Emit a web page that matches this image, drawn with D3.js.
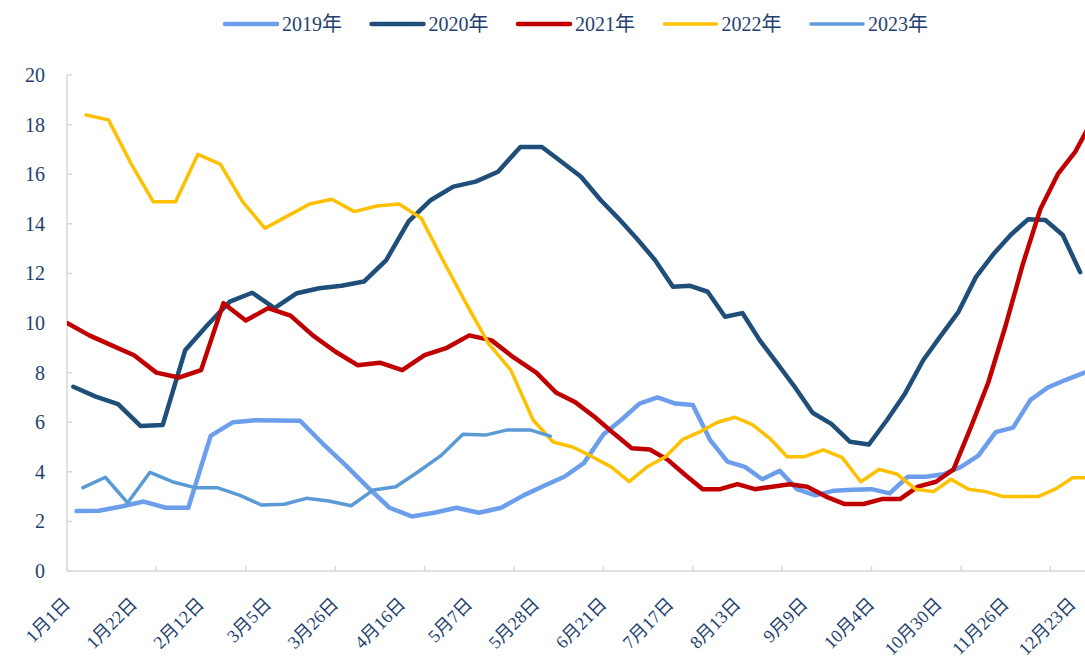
<!DOCTYPE html>
<html>
<head>
<meta charset="utf-8">
<script src="https://cdn.jsdelivr.net/npm/d3@7"></script>
<style>
  html, body { margin: 0; padding: 0; background: #fff; }
  svg { display: block; }
  text { font-family: "Liberation Serif", "Noto Sans CJK SC", serif; fill: #243f6e; }
</style>
</head>
<body>
<div id="chart"></div>
<script>
// 周度数据，各年第一个周五起
const dateLabels = ['1月1日', '1月22日', '2月12日', '3月5日', '3月26日', '4月16日', '5月7日', '5月28日',
  '6月21日', '7月17日', '8月13日', '9月9日', '10月4日', '10月30日', '11月26日', '12月23日'];
const yTicks = [0, 2, 4, 6, 8, 10, 12, 14, 16, 18, 20];

const seriesNames = ['2019年', '2020年', '2021年', '2022年', '2023年'];
const firstFridays = ['2019-01-04', '2020-01-03', '2021-01-01', '2022-01-07', '2023-01-06'];
const seriesColors = ['#6d9eeb', '#1f4e79', '#c00000', '#ffc000', '#5b9bd5'];
const seriesWidths = [4.5, 4.5, 4.5, 3.5, 3.5];

const v2019 = [2.42, 2.43, 2.6, 2.8, 2.55, 2.55, 5.45, 6.0, 6.08, 6.07, 6.06, 5.15, 4.3, 3.4, 2.55, 2.2,
  2.35, 2.55, 2.35, 2.55, 3.05, 3.45, 3.8, 4.35, 5.5, 6.1, 6.75, 7.0, 6.75, 6.69, 5.28, 4.41,
  4.2, 3.7, 4.04, 3.3, 3.05, 3.24, 3.28, 3.3, 3.13, 3.8, 3.8, 3.9, 4.2, 4.65, 5.6, 5.78,
  6.9, 7.4, 7.7, 7.97, 8.25];
const v2020 = [7.43, 7.03, 6.73, 5.85, 5.89, 8.9, 9.92, 10.86, 11.22, 10.6, 11.2, 11.4, 11.5, 11.67, 12.54, 14.1,
  14.96, 15.5, 15.7, 16.1, 17.1, 17.1, 16.5, 15.9, 14.96, 14.2, 13.4, 12.54, 11.46, 11.5, 11.26, 10.25,
  10.4, 9.3, 8.37, 7.43, 6.38, 5.93, 5.21, 5.1, 6.09, 7.16, 8.5, 9.5, 10.45, 11.85, 12.77, 13.55,
  14.18, 14.15, 13.55, 12.05];
const v2021 = [10.0, 9.5, 9.1, 8.7, 8.0, 7.8, 8.1, 10.8, 10.1, 10.6, 10.3, 9.5, 8.85, 8.3, 8.4, 8.1,
  8.7, 9.0, 9.5, 9.3, 8.6, 8.0, 7.2, 6.8, 6.2, 5.55, 4.95, 4.9, 4.48, 3.87, 3.3, 3.3,
  3.5, 3.3, 3.4, 3.5, 3.4, 3.0, 2.7, 2.7, 2.9, 2.9, 3.4, 3.6, 4.1, 5.8, 7.6, 9.9,
  12.4, 14.6, 16.0, 16.9, 18.2];
const v2022 = [18.39, 18.19, 16.44, 14.89, 14.89, 16.8, 16.41, 14.89, 13.82, 14.31, 14.8, 14.99, 14.49, 14.72, 14.8, 14.22,
  12.47, 10.79, 9.18, 8.1, 6.09, 5.2, 5.0, 4.61, 4.2, 3.6, 4.2, 4.6, 5.31, 5.62, 6.0, 6.2,
  5.9, 5.35, 4.61, 4.61, 4.88, 4.58, 3.6, 4.1, 3.9, 3.3, 3.2, 3.7, 3.3, 3.2, 3.0, 3.0,
  3.0, 3.3, 3.76, 3.76];
const v2023 = [3.36, 3.78, 2.75, 3.98, 3.6, 3.36, 3.36, 3.06, 2.66, 2.69, 2.93, 2.82, 2.63, 3.27, 3.4, 4.0,
  4.64, 5.51, 5.48, 5.69, 5.69, 5.44];

const seriesValues = [v2019, v2020, v2021, v2022, v2023];

const W = 1085, H = 657;
const margin = { left: 67, right: 0, top: 75, bottom: 86 };
const catsPerLabel = 3, catsPerTick = 4, visibleCats = 45.55;

const svg = d3.select('#chart').append('svg').attr('width', W).attr('height', H);

const parseDay = d3.timeParse('%Y-%m-%d');
const labelDays = dateLabels.map(s => {
  const m = s.match(/(\d+)月(\d+)日/);
  return d3.timeDay.count(new Date(2021, 0, 1), new Date(2021, +m[1] - 1, +m[2]));
});

// day -> category index (piecewise, labels are every 3 categories)
const dayToCat = d3.scaleLinear().domain(labelDays).range(labelDays.map((_, i) => i * catsPerLabel));
const x = d3.scaleLinear().domain([0, visibleCats]).range([margin.left, W - margin.right]);
const y = d3.scaleLinear().domain([0, 20]).range([H - margin.bottom, margin.top]);

const axisColor = '#d9d9d9';
const yBase = y(0);

// y axis
svg.append('line').attr('x1', x(0)).attr('x2', x(0)).attr('y1', y(20)).attr('y2', yBase)
  .attr('stroke', axisColor).attr('stroke-width', 1.5);
svg.append('g').selectAll('line').data(yTicks).join('line')
  .attr('x1', x(0)).attr('x2', x(0) + 5).attr('y1', d => y(d)).attr('y2', d => y(d))
  .attr('stroke', axisColor).attr('stroke-width', 1.5);
svg.append('g').selectAll('text').data(yTicks).join('text')
  .attr('x', 45).attr('y', d => y(d)).attr('dy', '0.35em')
  .attr('text-anchor', 'end').attr('font-size', '20px')
  .text(d => d);

// x axis
svg.append('line').attr('x1', x(0)).attr('x2', W).attr('y1', yBase).attr('y2', yBase)
  .attr('stroke', axisColor).attr('stroke-width', 1.5);
const tickCats = d3.range(0, visibleCats, catsPerTick);
svg.append('g').selectAll('line').data(tickCats).join('line')
  .attr('x1', d => x(d)).attr('x2', d => x(d)).attr('y1', yBase).attr('y2', yBase - 5)
  .attr('stroke', axisColor).attr('stroke-width', 1.5);
svg.append('g').selectAll('text').data(dateLabels).join('text')
  .attr('transform', (d, i) => `translate(${x(i * catsPerLabel)},${yBase + 30}) rotate(-45)`)
  .attr('text-anchor', 'end').attr('dominant-baseline', 'central')
  .attr('font-size', '18px')
  .text(d => d);

// lines
svg.append('clipPath').attr('id', 'plot-clip').append('rect')
  .attr('x', x(0)).attr('y', 0).attr('width', W - x(0)).attr('height', H);

const line = d3.line().x(d => x(dayToCat(d.day))).y(d => y(d.value));

const plot = svg.append('g').attr('clip-path', 'url(#plot-clip)');
seriesNames.forEach((name, si) => {
  const start = parseDay(firstFridays[si]);
  const yearStart = d3.timeYear.floor(start);
  const pts = seriesValues[si].map((v, k) => ({
    day: d3.timeDay.count(yearStart, d3.timeDay.offset(start, k * 7)),
    value: v
  }));
  plot.append('path').datum(pts)
    .attr('d', line)
    .attr('fill', 'none')
    .attr('stroke', seriesColors[si])
    .attr('stroke-width', seriesWidths[si])
    .attr('stroke-linejoin', 'round')
    .attr('stroke-linecap', 'round');
});

// legend
const legend = svg.append('g').attr('transform', 'translate(225,24)');
seriesNames.forEach((name, i) => {
  const g = legend.append('g').attr('transform', `translate(${i * 146.5},0)`);
  g.append('line').attr('x1', 0).attr('x2', 52).attr('y1', 0).attr('y2', 0)
    .attr('stroke', seriesColors[i]).attr('stroke-width', seriesWidths[i])
    .attr('stroke-linecap', 'round');
  g.append('text').attr('x', 57).attr('y', 0).attr('dy', '0.35em')
    .attr('font-size', '20px').text(name);
});
</script>
</body>
</html>
